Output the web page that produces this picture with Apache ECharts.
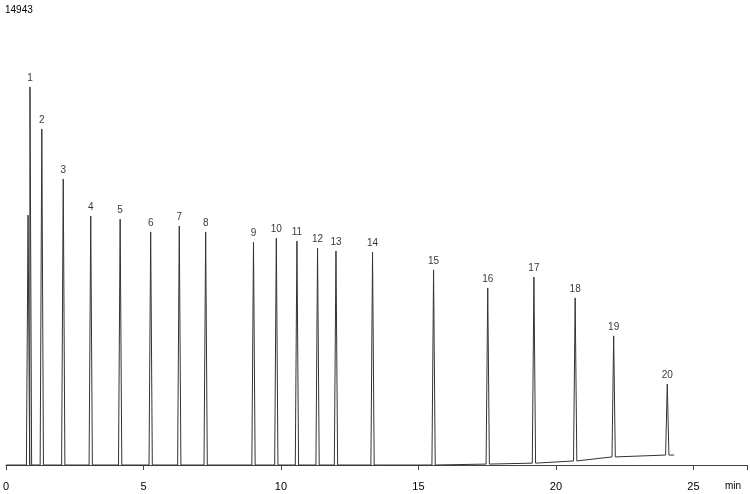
<!DOCTYPE html>
<html>
<head>
<meta charset="utf-8">
<script src="https://cdn.jsdelivr.net/npm/echarts@6/dist/echarts.min.js"></script>
<style>html,body{margin:0;padding:0;background:#fff}#chart{width:750px;height:494px}</style>
</head>
<body>
<div id="chart"></div>
<script>
// peak retention times (min), apex heights, local baseline
var peakTimes = [0.8, 0.87, 1.3, 2.08, 3.08, 4.15, 5.26, 6.3, 7.26, 9.0, 9.83, 10.58, 11.33, 12.0, 13.33, 15.55, 17.52, 19.2, 20.7, 22.1, 24.05];
var peakHeights = [8030, 12150, 10800, 9190, 8000, 7900, 7490, 7680, 7490, 7165, 7290, 7200, 6970, 6880, 6840, 6270, 5690, 6040, 5370, 4150, 2600];
var peakBase = [0, 0, 0, 0, 0, 0, 0, 0, 0, 0, 0, 0, 0, 0, 0, 0, 30, 60, 130, 260, 320];
var peakLabels = ["", "1", "2", "3", "4", "5", "6", "7", "8", "9", "10", "11", "12", "13", "14", "15", "16", "17", "18", "19", "20"];
var yMax = 14943;

var trace = [[0, 0]];
var apexes = [];
peakTimes.forEach(function (t, i) {
    var b = peakBase[i];
    trace.push([t - 0.06, b], [t, peakHeights[i]], [t + 0.06, b]);
    if (peakLabels[i]) apexes.push({ value: [t, peakHeights[i]], name: peakLabels[i] });
});
trace.push([24.3, 320]);

var myChart = echarts.init(document.getElementById("chart"));
myChart.setOption({
    animation: false,
    title: {
        text: String(yMax), left: 0, top: 0,
        textStyle: { fontSize: 10, fontWeight: "normal", color: "#000", fontFamily: "Liberation Sans" }
    },
    grid: { left: 0, right: 0, top: 0, bottom: 26 },
    xAxis: {
        type: "value", min: 0, max: 26.95, interval: 5,
        name: "min", nameLocation: "end", nameGap: -22,
        nameTextStyle: { fontSize: 10, color: "#000", verticalAlign: "top", padding: [16, 0, 0, 0] },
        axisLine: { lineStyle: { color: "#444", width: 1 } },
        axisTick: { length: 5, lineStyle: { color: "#444" } },
        axisLabel: { fontSize: 11, color: "#000", fontFamily: "Liberation Sans", margin: 13,
            formatter: function (v) { return v <= 25 ? v : ""; } },
        splitLine: { show: false }
    },
    yAxis: { type: "value", min: -96, max: yMax, show: false },
    series: [{
        type: "line", data: trace, symbol: "none",
        lineStyle: { color: "#333", width: 1 }
    }, {
        type: "scatter", data: apexes, symbolSize: 0,
        label: { show: true, position: "top", distance: 4, formatter: "{b}", fontSize: 10, color: "#000", fontFamily: "Liberation Sans" }
    }]
});
</script>
</body>
</html>
